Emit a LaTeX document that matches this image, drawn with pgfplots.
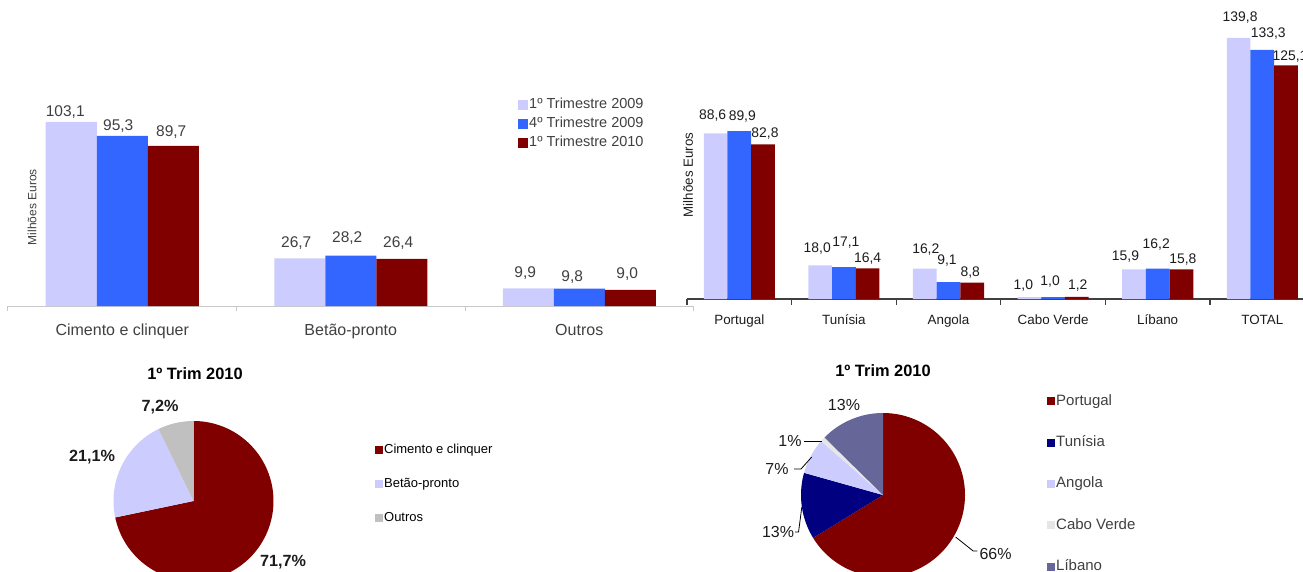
\documentclass[border=0pt]{standalone}
\usepackage{pgfplots}
\pgfplotsset{compat=1.18}
\usepackage{pgfplotstable}
\usepackage{fontspec}
\setmainfont{Liberation Sans}

\definecolor{lav}{HTML}{CCCCFF}
\definecolor{blu}{HTML}{3366FF}
\definecolor{dred}{HTML}{800000}
\definecolor{gry}{HTML}{C0C0C0}
\definecolor{navy}{HTML}{000080}
\definecolor{cvg}{HTML}{E6E6E6}
\definecolor{slate}{HTML}{666699}
\definecolor{txtg}{HTML}{404040}
\definecolor{txtd}{HTML}{1C1C1C}
\definecolor{axg}{HTML}{C8C8C8}
\definecolor{axd}{HTML}{404040}

% left bar chart: x, value, label x-offset, label y-offset (pt)
\pgfplotstableread{
x y dx dy
0 103.1 -6 10
1 26.7 -3.5 15
2 9.9 -3 15.3
}\LA
\pgfplotstableread{
x y dx dy
0 95.3 -4 10
1 28.2 -3.5 17.4
2 9.8 -7 11
}\LB
\pgfplotstableread{
x y dx dy
0 89.7 -2 14
1 26.4 -3.5 15.6
2 9.0 -3 15.4
}\LC
% right bar chart
\pgfplotstableread{
x y dx dy
0 88.6 -3 17.5
1 18.0 -3 16.4
2 16.2 1 19.7
3 1.0 -6 12
4 15.9 -8.5 12.3
5 139.8 1.5 20
}\RA
\pgfplotstableread{
x y dx dy
0 89.9 3 15
1 17.1 2 24
2 9.1 -1.5 21
3 1.0 -3 16
4 16.2 -1.5 24.7
5 133.3 6 16
}\RB
\pgfplotstableread{
x y dx dy
0 82.8 2 11
1 16.4 0 9.4
2 8.8 -2 9.6
3 1.2 1 11
4 15.8 1.5 9.5
5 125.1 4 9
}\RC

\pgfplotsset{
  lbl/.style={
    visualization depends on={\thisrow{dx}\as\mydx},
    visualization depends on={\thisrow{dy}\as\mydy},
    nodes near coords style={xshift=\mydx pt, yshift=\mydy pt, anchor=center},
  },
  sq/.style={legend image code/.code={\fill[##1] (0pt,-#1) rectangle (2*#1,#1);}},
}

\begin{document}
\begin{tikzpicture}
\useasboundingbox (0,0) rectangle (1303pt,-572pt);
\clip (0,0) rectangle (1303pt,-572pt);

%================ left bar chart
\begin{axis}[
  at={(8pt,-306pt)}, anchor=south west, scale only axis,
  width=685.5pt, height=214.2pt,
  xmin=-0.5, xmax=2.5, ymin=0, ymax=120,
  ybar=0pt, bar width=51pt,
  axis x line*=bottom, axis y line=none,
  axis line style={draw=axg, line width=1pt, -},
  xtick={0,1,2}, xticklabels={Cimento e clinquer,Betão-pronto,Outros},
  minor xtick={-0.5,0.5,1.5,2.5},
  major tick length=0pt, minor tick length=4.5pt, tick align=outside,
  tick style={draw=axg, line width=1pt},
  xticklabel style={font=\fontsize{16}{19}\selectfont, text=txtg, anchor=base, yshift=-29pt},
  ytick=\empty,
  clip=false,
  point meta=y,
  nodes near coords={\pgfmathprintnumber[fixed,fixed zerofill,precision=1,use comma,assume math mode=true]{\pgfplotspointmeta}},
  every node near coord/.append style={font=\fontsize{15.5}{18}\selectfont, text=txtg},
  legend cell align=left,
  legend style={at={(0.744,0.976)}, anchor=north west, draw=none, fill=none,
    font=\fontsize{14.5}{17}\selectfont, text=txtg, inner sep=0pt, row sep=4.3pt,
    nodes={inner sep=1pt, text height=10pt, text depth=3pt}},
  sq=5pt,
]
\addplot[fill=lav, draw=none, lbl] table[x=x,y=y] {\LA};
\addplot[fill=blu, draw=none, lbl] table[x=x,y=y] {\LB};
\addplot[fill=dred, draw=none, lbl] table[x=x,y=y] {\LC};
\legend{1º Trimestre 2009,4º Trimestre 2009,1º Trimestre 2010}
\node[rotate=90, font=\fontsize{12}{14}\selectfont, text=txtg] at (axis description cs:0.035,0.462) {Milhões Euros};
\end{axis}

%================ right bar chart
\begin{axis}[
  at={(687pt,-299pt)}, anchor=south west, scale only axis,
  width=627.6pt, height=280.2pt,
  xmin=-0.5, xmax=5.5, ymin=0, ymax=150,
  ybar=0pt, bar width=23.7pt,
  axis x line*=bottom, axis y line=none,
  axis line style={draw=axd, line width=1.3pt, -},
  xtick={0,1,2,3,4,5}, xticklabels={Portugal,Tunísia,Angola,Cabo Verde,Líbano,TOTAL},
  minor xtick={-0.5,0.5,1.5,2.5,3.5,4.5,5.5},
  major tick length=0pt, minor tick length=5.5pt, tick align=outside,
  tick style={draw=axd, line width=1.3pt},
  xticklabel style={font=\fontsize{13.4}{16}\selectfont, text=txtd, anchor=base, yshift=-25pt},
  ytick=\empty,
  clip=false,
  point meta=y,
  nodes near coords={\pgfmathprintnumber[fixed,fixed zerofill,precision=1,use comma,assume math mode=true]{\pgfplotspointmeta}},
  every node near coord/.append style={font=\fontsize{13.9}{16}\selectfont, text=txtd},
]
\addplot[fill=lav, draw=none, lbl] table[x=x,y=y] {\RA};
\addplot[fill=blu, draw=none, lbl] table[x=x,y=y] {\RB};
\addplot[fill=dred, draw=none, lbl] table[x=x,y=y] {\RC};
\node[rotate=90, font=\fontsize{13.3}{15}\selectfont, text=txtd] at (axis description cs:0.0016,0.4425) {Milhões Euros};
\end{axis}

%================ left pie (71.7 / 21.1 / 7.2 %)
\begin{axis}[
  at={(193.5pt,-501pt)}, anchor=center, scale only axis,
  width=160pt, height=160pt,
  xmin=-1, xmax=1, ymin=-1, ymax=1,
  hide axis, clip=false,
  legend cell align=left,
  legend style={at={(1.634,0.866)}, anchor=north west, draw=none, fill=none,
    font=\fontsize{13}{15}\selectfont, text=black, inner sep=0pt, row sep=19pt,
    nodes={inner sep=1pt, text height=10pt, text depth=3pt}},
  sq=4pt,
]
\addplot[fill=dred, draw=none, domain={90-3.6*71.7}:90, samples=120, variable=\t]
  ({cos(\t)},{sin(\t)}) -- (axis cs:0,0) -- cycle;
\addplot[fill=lav, draw=none, domain={90-3.6*(71.7+21.1)}:{90-3.6*71.7}, samples=60, variable=\t]
  ({cos(\t)},{sin(\t)}) -- (axis cs:0,0) -- cycle;
\addplot[fill=gry, draw=none, domain={90-3.6*(71.7+21.1+7.2)}:{90-3.6*(71.7+21.1)}, samples=30, variable=\t]
  ({cos(\t)},{sin(\t)}) -- (axis cs:0,0) -- cycle;
\legend{Cimento e clinquer,Betão-pronto,Outros}
\node[font=\bfseries\fontsize{16.4}{19}\selectfont, text=black] at (axis cs:0.019,1.5875) {1º Trim 2010};
\node[font=\bfseries\fontsize{16.2}{19}\selectfont, text=txtd] at (axis cs:-0.419,1.175) {7,2\%};
\node[font=\bfseries\fontsize{16.2}{19}\selectfont, text=txtd] at (axis cs:-1.269,0.55) {21,1\%};
\node[font=\bfseries\fontsize{16.2}{19}\selectfont, text=txtd] at (axis cs:1.119,-0.7625) {71,7\%};
\end{axis}

%================ right pie (82.8 / 16.4 / 8.8 / 1.2 / 15.8 of 125.0)
\begin{axis}[
  at={(883pt,-495pt)}, anchor=center, scale only axis,
  width=164pt, height=164pt,
  xmin=-1, xmax=1, ymin=-1, ymax=1,
  hide axis, clip=false,
  legend cell align=left,
  legend style={at={(1.5,1.122)}, anchor=north west, draw=none, fill=none,
    font=\fontsize{15}{18}\selectfont, text=txtg, inner sep=0pt, row sep=24.8pt,
    nodes={inner sep=1pt, text height=11pt, text depth=3.5pt}},
  sq=4pt,
]
\addplot[fill=dred, draw=none, domain={90-2.88*82.8}:90, samples=120, variable=\t]
  ({cos(\t)},{sin(\t)}) -- (axis cs:0,0) -- cycle;
\addplot[fill=navy, draw=none, domain={90-2.88*(82.8+16.4)}:{90-2.88*82.8}, samples=40, variable=\t]
  ({cos(\t)},{sin(\t)}) -- (axis cs:0,0) -- cycle;
\addplot[fill=lav, draw=none, domain={90-2.88*(82.8+16.4+8.8)}:{90-2.88*(82.8+16.4)}, samples=30, variable=\t]
  ({cos(\t)},{sin(\t)}) -- (axis cs:0,0) -- cycle;
\addplot[fill=cvg, draw=none, domain={90-2.88*(82.8+16.4+8.8+1.2)}:{90-2.88*(82.8+16.4+8.8)}, samples=10, variable=\t]
  ({cos(\t)},{sin(\t)}) -- (axis cs:0,0) -- cycle;
\addplot[fill=slate, draw=none, domain={90-2.88*(82.8+16.4+8.8+1.2+15.8)}:{90-2.88*(82.8+16.4+8.8+1.2)}, samples=40, variable=\t]
  ({cos(\t)},{sin(\t)}) -- (axis cs:0,0) -- cycle;
\legend{Portugal,Tunísia,Angola,Cabo Verde,Líbano}
\node[font=\bfseries\fontsize{16.4}{19}\selectfont, text=black] at (axis cs:0,1.512) {1º Trim 2010};
\node[font=\fontsize{16}{19}\selectfont, text=txtd] at (axis cs:-0.476,1.098) {13\%};
\node[font=\fontsize{16}{19}\selectfont, text=txtd] at (axis cs:-1.134,0.659) {1\%};
\node[font=\fontsize{16}{19}\selectfont, text=txtd] at (axis cs:-1.293,0.317) {7\%};
\node[font=\fontsize{16}{19}\selectfont, text=txtd] at (axis cs:-1.28,-0.451) {13\%};
\node[font=\fontsize{16}{19}\selectfont, text=txtd] at (axis cs:1.372,-0.72) {66\%};
\draw[black, line width=0.8pt] (axis cs:-0.963,0.659) -- (axis cs:-0.744,0.659);
\draw[black, line width=0.8pt] (axis cs:-1.085,0.317) -- (axis cs:-1.0,0.317) -- (axis cs:-0.87,0.463);
\draw[black, line width=0.8pt] (axis cs:-1.073,-0.451) -- (axis cs:-1.03,-0.451) -- (axis cs:-0.99,-0.146);
\draw[black, line width=0.8pt] (axis cs:1.152,-0.683) -- (axis cs:1.1,-0.683) -- (axis cs:0.885,-0.512);
\end{axis}
\end{tikzpicture}
\end{document}
